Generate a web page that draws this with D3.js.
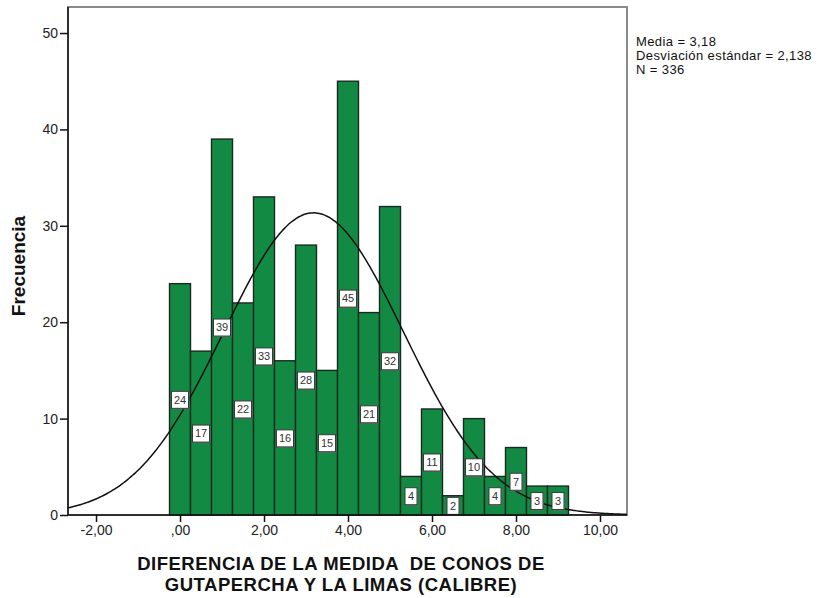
<!DOCTYPE html>
<html>
<head>
<meta charset="utf-8">
<script src="https://cdn.jsdelivr.net/npm/d3@7"></script>
<style>
  html, body { margin: 0; padding: 0; background: #fff; }
  svg { display: block; font-family: "Liberation Sans", Arial, sans-serif; }
  .pre { white-space: pre; }
</style>
</head>
<body>
<svg id="chart" width="825" height="598"></svg>
<script>
// Histogram bins (centre of each 0,5-wide bin) and their frequencies
const binCenters = [0, 0.5, 1, 1.5, 2, 2.5, 3, 3.5, 4, 4.5, 5, 5.5, 6, 6.5, 7, 7.5, 8, 8.5, 9];
const frequencies = [24, 17, 39, 22, 33, 16, 28, 15, 45, 21, 32, 4, 11, 2, 10, 4, 7, 3, 3];
const binWidth = 0.5;

// Summary statistics for the fitted normal curve
const mean = 3.18;
const stdDev = 2.138;
const total = 336;

// Axis ticks and text
const xTicks = [-2, 0, 2, 4, 6, 8, 10];
const yTicks = [0, 10, 20, 30, 40, 50];
const statsLines = ["Media = 3,18", "Desviación estándar = 2,138", "N = 336"];
const xTitleLines = ["DIFERENCIA DE LA MEDIDA  DE CONOS DE", "GUTAPERCHA Y LA LIMAS (CALIBRE)"];
const yTitle = "Frecuencia";

const svg = d3.select("#chart");
const plot = { left: 68, right: 627, top: 7, bottom: 515 };

const x = d3.scaleLinear().domain([-2.667, 10.643]).range([plot.left, plot.right]);
const y = d3.scaleLinear().domain([0, 52.7]).range([plot.bottom, plot.top]);

const fmt = v => {
  const s = Math.abs(v).toFixed(2).replace(".", ",");
  const t = s.startsWith("0,") ? s.slice(1) : s;
  return (v < 0 ? "-" : "") + t;
};

// Frame: gray top/right, black left/bottom axes
svg.append("rect")
  .attr("x", plot.left).attr("y", plot.top)
  .attr("width", plot.right - plot.left).attr("height", plot.bottom - plot.top)
  .attr("fill", "#fff").attr("stroke", "#8a8a8a").attr("stroke-width", 2);

// Bars
const bars = binCenters.map((c, i) => ({ c, f: frequencies[i] }));
svg.append("g").selectAll("rect").data(bars).join("rect")
  .attr("x", d => x(d.c - binWidth / 2))
  .attr("y", d => y(d.f))
  .attr("width", d => x(d.c + binWidth / 2) - x(d.c - binWidth / 2))
  .attr("height", d => y(0) - y(d.f))
  .attr("fill", "#128a44")
  .attr("stroke", "#1a2a1f")
  .attr("stroke-width", 1.4);

// Normal curve
const [x0, x1] = x.domain();
const curvePts = d3.range(0, 301).map(i => {
  const v = x0 + (x1 - x0) * i / 300;
  const z = (v - mean) / stdDev;
  const dens = Math.exp(-0.5 * z * z) / (stdDev * Math.sqrt(2 * Math.PI));
  return [v, dens * total * binWidth];
});
svg.append("path")
  .datum(curvePts)
  .attr("d", d3.line().x(d => x(d[0])).y(d => y(d[1])).curve(d3.curveBasis))
  .attr("fill", "none").attr("stroke", "#111").attr("stroke-width", 1.5);

// Value labels at mid-height of each bar
const lab = svg.append("g").selectAll("g").data(bars).join("g")
  .attr("transform", d => `translate(${x(d.c)},${y(d.f / 2)})`);
lab.each(function(d) {
  const g = d3.select(this);
  const w = String(d.f).length > 1 ? 17 : 12;
  g.append("rect").attr("x", -w / 2 + 1).attr("y", -8 + 1).attr("width", w).attr("height", 17)
    .attr("fill", "#6f6f6f");
  g.append("rect").attr("x", -w / 2).attr("y", -8).attr("width", w).attr("height", 17)
    .attr("fill", "#fff").attr("stroke", "#3a3a3a").attr("stroke-width", 1);
  g.append("text").attr("text-anchor", "middle").attr("y", 0.5).attr("dy", "0.35em")
    .attr("font-size", 11).attr("fill", "#333").text(d.f);
});

// Axes
const yAxis = d3.axisLeft(y).tickValues(yTicks).tickSize(8).tickPadding(2).tickFormat(d3.format("d"));
const ya = svg.append("g").attr("transform", `translate(${plot.left},0)`).call(yAxis);
const xAxis = d3.axisBottom(x).tickValues(xTicks).tickSize(7).tickPadding(3).tickFormat(fmt);
const xa = svg.append("g").attr("transform", `translate(0,${plot.bottom})`).call(xAxis);
[ya, xa].forEach(a => {
  a.select(".domain").remove();
  a.selectAll(".tick line").attr("stroke", "#111").attr("stroke-width", 1.5);
  a.selectAll(".tick text").attr("font-size", 14).attr("fill", "#222")
    .attr("font-family", "'Liberation Sans', Arial, sans-serif");
});

svg.append("line").attr("x1", plot.left).attr("x2", plot.left)
  .attr("y1", plot.top).attr("y2", plot.bottom).attr("stroke", "#111").attr("stroke-width", 1.5);
svg.append("line").attr("x1", plot.left).attr("x2", plot.right)
  .attr("y1", plot.bottom).attr("y2", plot.bottom).attr("stroke", "#111").attr("stroke-width", 1.5);

// Axis titles
svg.append("text")
  .attr("transform", `translate(25,${(plot.top + plot.bottom) / 2 + 5}) rotate(-90)`)
  .attr("text-anchor", "middle").attr("font-size", 19).attr("font-weight", "bold")
  .attr("fill", "#111").text(yTitle);

svg.append("g").selectAll("text").data(xTitleLines).join("text")
  .attr("class", "pre")
  .attr("x", 341).attr("y", (d, i) => 570 + i * 21)
  .attr("text-anchor", "middle").attr("font-size", 18.5).attr("letter-spacing", 0.5)
  .attr("font-weight", "bold")
  .attr("fill", "#111").text(d => d);

// Summary statistics
svg.append("g").selectAll("text").data(statsLines).join("text")
  .attr("x", 636).attr("y", (d, i) => 46 + i * 14)
  .attr("font-size", 13).attr("letter-spacing", 0.4).attr("fill", "#111").text(d => d);
</script>
</body>
</html>
